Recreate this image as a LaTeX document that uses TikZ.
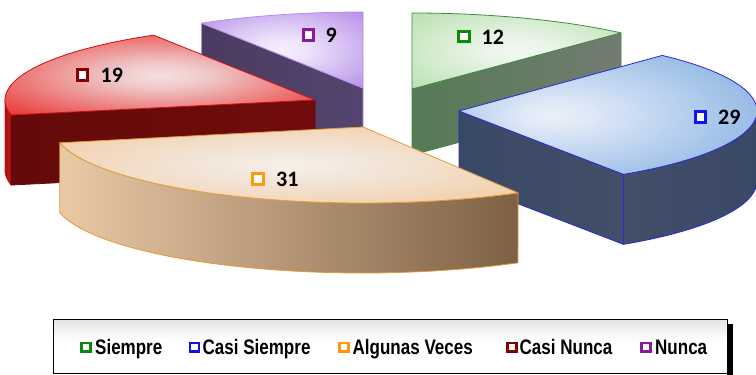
\documentclass[tikz,border=0pt]{standalone}
\usepackage{fontspec}
\newfontfamily\lblfont{Carlito}
\newfontfamily\legfont{Liberation Sans}[FakeStretch=0.81]
\usetikzlibrary{calc}

\definecolor{grEdge}{HTML}{3F8A3F}
\definecolor{grSideL}{HTML}{567A56}
\definecolor{grSideR}{HTML}{727C72}
\definecolor{purEdge}{HTML}{B58EEA}
\definecolor{purSideL}{HTML}{4B3B60}
\definecolor{purSideM}{HTML}{646464}
\definecolor{purSideR}{HTML}{544570}
\definecolor{redEdge}{HTML}{D01010}
\definecolor{redFrontL}{HTML}{640A0A}
\definecolor{redFrontM}{HTML}{561C1C}
\definecolor{redFrontR}{HTML}{720C0C}
\definecolor{redSliver}{HTML}{C81616}
\definecolor{bluEdge}{HTML}{2A2AD0}
\definecolor{bluSideL}{HTML}{3A4868}
\definecolor{bluSideM}{HTML}{555E70}
\definecolor{bluSideR}{HTML}{424F68}
\definecolor{orEdge}{HTML}{E49A3A}
\definecolor{orSideL}{HTML}{EAC9A6}
\definecolor{orSideM}{HTML}{D4AE88}
\definecolor{orSideR}{HTML}{7E6044}
\definecolor{mkGreen}{HTML}{0A8A0A}
\definecolor{mkBlue}{HTML}{1010F0}
\definecolor{mkOrange}{HTML}{FF9A10}
\definecolor{mkRed}{HTML}{8A0000}
\definecolor{mkPurple}{HTML}{8A1A9A}

\pgfdeclareradialshading{grTopSh}{\pgfpoint{0bp}{0bp}}{rgb(0bp)=(0.95,0.97,0.95); rgb(8bp)=(0.92,0.96,0.91); rgb(42bp)=(0.68,0.86,0.64); rgb(50bp)=(0.68,0.86,0.64)}
\pgfdeclareradialshading{purTopSh}{\pgfpoint{0bp}{0bp}}{rgb(0bp)=(0.96,0.94,0.99); rgb(8bp)=(0.93,0.89,0.98); rgb(42bp)=(0.67,0.48,0.90); rgb(50bp)=(0.67,0.48,0.90)}
\pgfdeclareradialshading{redTopSh}{\pgfpoint{0bp}{0bp}}{rgb(0bp)=(0.96,0.88,0.88); rgb(8bp)=(0.94,0.78,0.78); rgb(40bp)=(0.91,0.10,0.10); rgb(50bp)=(0.91,0.10,0.10)}
\pgfdeclareradialshading{bluTopSh}{\pgfpoint{-10bp}{0bp}}{rgb(0bp)=(0.92,0.94,0.97); rgb(6bp)=(0.87,0.91,0.97); rgb(34bp)=(0.54,0.70,0.89); rgb(50bp)=(0.54,0.70,0.89)}
\pgfdeclareradialshading{orTopSh}{\pgfpoint{0bp}{0bp}}{rgb(0bp)=(0.97,0.94,0.91); rgb(10bp)=(0.95,0.90,0.85); rgb(44bp)=(0.95,0.76,0.56); rgb(50bp)=(0.95,0.76,0.56)}
\pgfdeclareverticalshading{legSh}{100bp}{rgb(0bp)=(0.86,0.86,0.86); rgb(30bp)=(1,1,1); rgb(55bp)=(1,1,1); rgb(100bp)=(0.75,0.75,0.75)}

\begin{document}
\begin{tikzpicture}[x=1pt,y=-1pt,
  edge/.style={line width=0.8pt, line join=round},
  mk/.style={draw=#1, line width=2.8pt, fill=white, minimum size=10.5pt, inner sep=0pt, rectangle},
  lbl/.style={font=\lblfont\bfseries\fontsize{22}{22}\selectfont, inner sep=0pt, anchor=west, text=black},
  lmk/.style={draw=#1, line width=2.7pt, fill=white, minimum width=9pt, minimum height=8.3pt, inner sep=0pt, rectangle},
  leg/.style={font=\legfont\bfseries\fontsize{21}{21}\selectfont, inner sep=0pt, anchor=base west, text=black}]
\useasboundingbox (0,0) rectangle (756,375);

\begin{scope}
\clip (0,0) rectangle (756,375);
% ---------- green (12)
\coordinate (Gc) at (412,89);
\coordinate (Ge) at ({412+310*cos(312.4)},{89+76*sin(312.4)});
\shadedraw[edge, draw=grEdge, left color=grSideL, right color=grSideR]
  (Gc) -- (Ge) -- ($(Ge)+(0,66)$) -- ($(Gc)+(0,66)$) -- cycle;
\shadedraw[edge, draw=grEdge, shading=grTopSh]
  (Gc) -- plot[domain=270:312.4, samples=30] ({412+310*cos(\x)},{89+76*sin(\x)}) -- cycle;
% ---------- purple (9)
\coordinate (Pc) at (363,88);
\coordinate (Ps) at ({363+310*cos(238.6)},{88+76*sin(238.6)});
\shadedraw[edge, draw=purEdge, left color=purSideL, middle color=purSideM, right color=purSideR]
  (Ps) -- (Pc) -- ($(Pc)+(0,70)$) -- ($(Ps)+(0,70)$) -- cycle;
\shadedraw[edge, draw=purEdge, shading=purTopSh]
  (Pc) -- plot[domain=238.6:270, samples=30] ({363+310*cos(\x)},{88+76*sin(\x)}) -- cycle;
% ---------- red (19)
\coordinate (Rc) at (315,100);
\coordinate (Rs) at ({315+310*cos(168.6)},{100+76*sin(168.6)});
\shadedraw[edge, draw=redEdge, left color=redSliver!80!black, right color=redSliver]
  plot[domain=168.6:180, samples=10] ({315+310*cos(\x)},{100+76*sin(\x)})
  -- plot[domain=180:168.6, samples=10] ({315+310*cos(\x)},{170+76*sin(\x)}) -- cycle;
\shadedraw[edge, draw=redFrontL, left color=redFrontL, middle color=redFrontM, right color=redFrontR]
  (Rs) -- (Rc) -- ($(Rc)+(0,70)$) -- ($(Rs)+(0,70)$) -- cycle;
\shadedraw[edge, draw=redEdge, shading=redTopSh]
  (Rc) -- plot[domain=168.6:238.6, samples=40] ({315+310*cos(\x)},{100+76*sin(\x)}) -- cycle;
% ---------- blue (29)
\coordinate (Bc) at (459,111);
\coordinate (Be) at ({459+298*cos(56.5)},{111+76*sin(56.5)});
\shadedraw[edge, draw=bluEdge, left color=bluSideR, middle color=bluSideM, right color=bluSideL]
  plot[domain=360:416.5, samples=30] ({459+298*cos(\x)},{111+76*sin(\x)})
  -- plot[domain=416.5:360, samples=30] ({459+298*cos(\x)},{181+76*sin(\x)}) -- cycle;
\shadedraw[edge, draw=bluEdge, left color=bluSideL, middle color=bluSideM, right color=bluSideR]
  (Bc) -- (Be) -- ($(Be)+(0,70)$) -- ($(Bc)+(0,70)$) -- cycle;
\shadedraw[edge, draw=bluEdge, shading=bluTopSh]
  (Bc) -- plot[domain=313:416.5, samples=50] ({459+298*cos(\x)},{111+76*sin(\x)}) -- cycle;
% ---------- orange (31)
\coordinate (Oc) at (363,127);
\shadedraw[edge, draw=orEdge, left color=orSideL, middle color=orSideM, right color=orSideR]
  plot[domain=60:168, samples=50] ({363+310*cos(\x)},{127+76*sin(\x)})
  -- plot[domain=168:60, samples=50] ({363+310*cos(\x)},{197+76*sin(\x)}) -- cycle;
\shadedraw[edge, draw=orEdge, shading=orTopSh]
  (Oc) -- plot[domain=60:168, samples=50] ({363+310*cos(\x)},{127+76*sin(\x)}) -- cycle;
\end{scope}

% ---------- data labels
\node[mk=mkPurple] (m9) at (308.5,35) {};
\node[lbl] (t9) at (325.5,35.5) {9};
\node[mk=mkRed] (m19) at (82.5,75) {};
\node[lbl] (t19) at (100.5,75) {19};
\node[mk=mkOrange] (m31) at (258,179) {};
\node[lbl] (t31) at (276,179) {31};
\node[mk=mkGreen] (m12) at (464,36.5) {};
\node[lbl] (t12) at (481.5,37) {12};
\node[mk=mkBlue] (m29) at (700.5,117) {};
\node[lbl] (t29) at (718,117) {29};

% ---------- legend
\fill[black] (727,324) rectangle (733,375);
\node[draw=black, line width=0.8pt, shading=legSh, minimum width=674pt, minimum height=54pt, inner sep=0pt]
  (legend) at (390,346) {};
\node[lmk=mkGreen] (lg1) at (85.8,347.2) {};
\node[leg] (lt1) at (95,354) {Siempre};
\node[lmk=mkBlue] (lg2) at (194.5,347.2) {};
\node[leg] (lt2) at (202.5,354) {Casi Siempre};
\node[lmk=mkOrange] (lg3) at (344,347.2) {};
\node[leg] (lt3) at (352.5,354) {Algunas Veces};
\node[lmk=mkRed] (lg4) at (511.7,347.2) {};
\node[leg] (lt4) at (519.5,354) {Casi Nunca};
\node[lmk=mkPurple] (lg5) at (646.3,347.2) {};
\node[leg] (lt5) at (655,354) {Nunca};
\end{tikzpicture}
\end{document}
